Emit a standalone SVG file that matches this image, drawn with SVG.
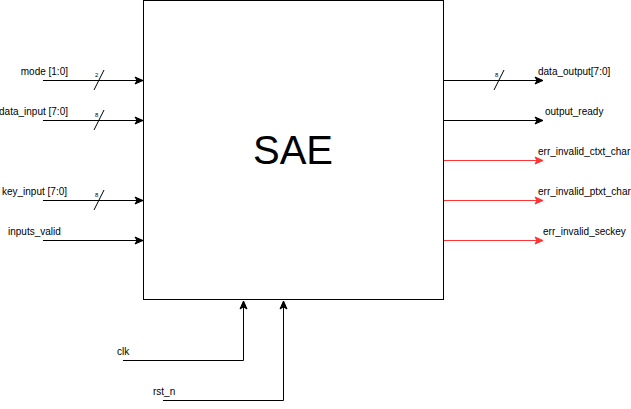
<svg xmlns="http://www.w3.org/2000/svg" width="631" height="409" viewBox="0 0 631 409">
<style>
text{font-family:"Liberation Sans",Arial,sans-serif;fill:#000}
.lbl{font-size:10px}
.bw{font-size:6px}
.w{stroke:#000;stroke-width:1;fill:none}
.r{stroke:#FF3333;stroke-width:1;fill:none}
</style>
<defs>
<marker id="ab" markerWidth="10" markerHeight="10" refX="9" refY="5" orient="auto" markerUnits="userSpaceOnUse" viewBox="0 0 10 10">
<path d="M1,1.5 L9,5 L1,8.5 L3,5 Z" fill="#000" stroke="#000" stroke-width="1"/>
</marker>
<marker id="ar" markerWidth="10" markerHeight="10" refX="9" refY="5" orient="auto" markerUnits="userSpaceOnUse" viewBox="0 0 10 10">
<path d="M1,1.5 L9,5 L1,8.5 L3,5 Z" fill="#FF3333" stroke="#FF3333" stroke-width="1"/>
</marker>
</defs>
<g id="sae">
<rect x="143.5" y="0.5" width="300" height="299" fill="#fff" stroke="#000" stroke-width="1"/>
<text x="293" y="164" font-size="40" text-anchor="middle">SAE</text>
</g>
<g id="connectors">
<line class="w" x1="43" y1="80.5" x2="143" y2="80.5" marker-end="url(#ab)"/>
<line class="w" x1="94" y1="90" x2="104" y2="70"/>
<line class="w" x1="43" y1="120.5" x2="143" y2="120.5" marker-end="url(#ab)"/>
<line class="w" x1="94" y1="130" x2="104" y2="110"/>
<line class="w" x1="43" y1="200.5" x2="143" y2="200.5" marker-end="url(#ab)"/>
<line class="w" x1="94" y1="210" x2="104" y2="190"/>
<line class="w" x1="43" y1="240.5" x2="143" y2="240.5" marker-end="url(#ab)"/>
<line class="w" x1="444" y1="80.5" x2="543" y2="80.5" marker-end="url(#ab)"/>
<line class="w" x1="494" y1="90" x2="504" y2="70"/>
<line class="w" x1="444" y1="120.5" x2="543" y2="120.5" marker-end="url(#ab)"/>
<line class="r" x1="444" y1="160.5" x2="543" y2="160.5" marker-end="url(#ar)"/>
<line class="r" x1="444" y1="200.5" x2="543" y2="200.5" marker-end="url(#ar)"/>
<line class="r" x1="444" y1="240.5" x2="543" y2="240.5" marker-end="url(#ar)"/>
<polyline class="w" points="123,360.5 243.5,360.5 243.5,301" marker-end="url(#ab)"/>
<polyline class="w" points="163,400.5 283.5,400.5 283.5,301" marker-end="url(#ab)"/>
</g>
<g id="labels">
<text class="lbl" x="68" y="75" text-anchor="end">mode [1:0]</text>
<text class="bw" x="95" y="77">2</text>
<text class="lbl" x="68" y="115" text-anchor="end">data_input [7:0]</text>
<text class="bw" x="95" y="117">8</text>
<text class="lbl" x="67" y="195" text-anchor="end">key_input [7:0]</text>
<text class="bw" x="95" y="197">8</text>
<text class="lbl" x="8" y="235">inputs_valid</text>
<text class="bw" x="495" y="77">8</text>
<text class="lbl" x="538" y="75">data_output[7:0]</text>
<text class="lbl" x="545" y="115">output_ready</text>
<text class="lbl" x="538" y="155">err_invalid_ctxt_char</text>
<text class="lbl" x="538" y="195">err_invalid_ptxt_char</text>
<text class="lbl" x="543" y="235">err_invalid_seckey</text>
<text class="lbl" x="117" y="355">clk</text>
<text class="lbl" x="153" y="395">rst_n</text>
</g>
</svg>
